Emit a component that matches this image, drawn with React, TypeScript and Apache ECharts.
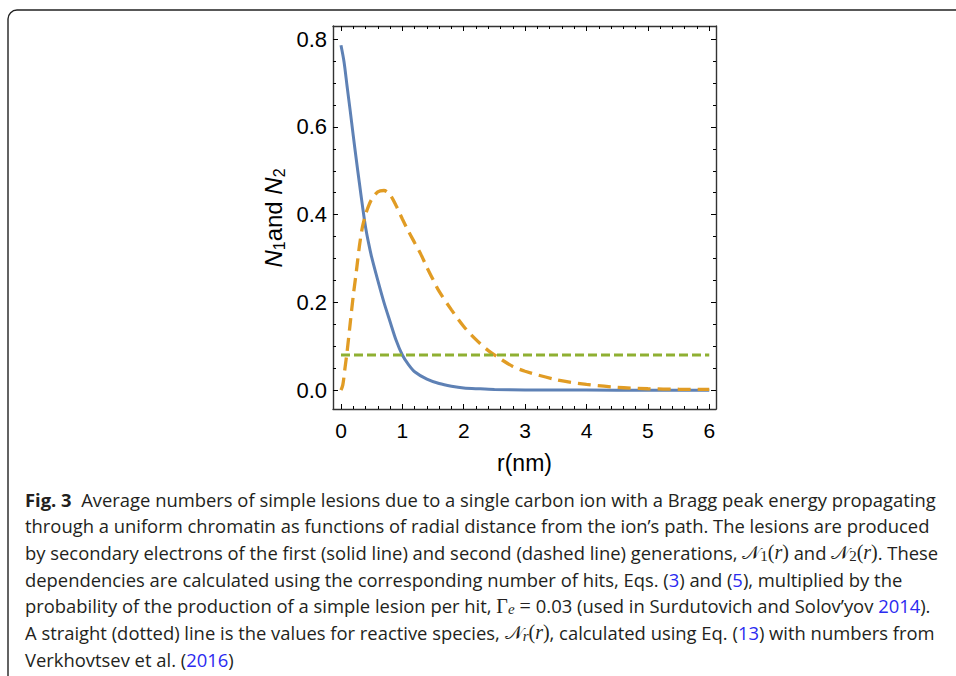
import React, { useEffect, useRef } from "react";
import * as echarts from "echarts";

// ---- data ----
const rN1 = [0, 0.05, 0.1, 0.15, 0.2, 0.25, 0.3, 0.35, 0.4, 0.45, 0.5, 0.6, 0.7, 0.8, 0.9, 1.0, 1.1, 1.2, 1.4, 1.6, 1.8, 2.0, 2.25, 2.5, 3.0, 4.0, 5.0, 6.0];
const n1Values = [0.786, 0.748, 0.692, 0.637, 0.58, 0.525, 0.472, 0.42, 0.372, 0.335, 0.303, 0.25, 0.2, 0.156, 0.113, 0.08, 0.058, 0.042, 0.025, 0.015, 0.009, 0.005, 0.003, 0.0015, 0.0005, 0.0001, 0, 0];

const rN2 = [0, 0.03, 0.065, 0.1, 0.15, 0.2, 0.25, 0.3, 0.35, 0.4, 0.45, 0.5, 0.6, 0.7, 0.8, 0.9, 1.0, 1.1, 1.2, 1.3, 1.4, 1.5, 1.6, 1.8, 2.0, 2.2, 2.4, 2.6, 2.8, 3.0, 3.5, 4.0, 4.5, 5.0, 5.5, 6.0];
const n2Values = [0, 0.012, 0.05, 0.088, 0.152, 0.215, 0.27, 0.328, 0.372, 0.4, 0.42, 0.435, 0.452, 0.455, 0.445, 0.42, 0.39, 0.362, 0.336, 0.31, 0.28, 0.252, 0.225, 0.183, 0.145, 0.115, 0.09, 0.071, 0.054, 0.043, 0.024, 0.013, 0.0065, 0.0032, 0.002, 0.0016];

const rReactive = [0, 6];
const reactiveValues = [0.08, 0.08];

const xMajorTicks = [0, 1, 2, 3, 4, 5, 6];
const xMinorTicks = [0.2, 0.4, 0.6, 0.8, 1.2, 1.4, 1.6, 1.8, 2.2, 2.4, 2.6, 2.8, 3.2, 3.4, 3.6, 3.8, 4.2, 4.4, 4.6, 4.8, 5.2, 5.4, 5.6, 5.8];
const yMajorTicks = [0, 0.2, 0.4, 0.6, 0.8];
const yMinorTicks = [0.05, 0.1, 0.15, 0.25, 0.3, 0.35, 0.45, 0.5, 0.55, 0.65, 0.7, 0.75];

const captionLines = [
  "{b|Fig. 3}{t|  Average numbers of simple lesions due to a single carbon ion with a Bragg peak energy propagating}",
  "{t|through a uniform chromatin as functions of radial distance from the ion\u2019s path. The lesions are produced}",
  "{t|by secondary electrons of the first (solid line) and second (dashed line) generations, }{m|\uD835\uDCA9}{s|1}{p|(}{mi|r}{p|)}{t| and }{m|\uD835\uDCA9}{s|2}{p|(}{mi|r}{p|)}{t|. These}",
  "{t|dependencies are calculated using the corresponding number of hits, Eqs. (}{l|3}{t|) and (}{l|5}{t|), multiplied by the}",
  "{t|probability of the production of a simple lesion per hit, }{p|\u0393}{si|e}{p| = }{t|0.03 (used in Surdutovich and Solov\u2019yov }{l|2014}{t|).}",
  "{t|A straight (dotted) line is the values for reactive species, }{m|\uD835\uDCA9}{si|r}{p|(}{mi|r}{p|)}{t|, calculated using Eq. (}{l|13}{t|) with numbers from}",
  "{t|Verkhovtsev et al. (}{l|2016}{t|)}",
];

const GRID = { left: 333, right: 240, top: 26, bottom: 267 };
const X_MIN = -0.13, X_MAX = 6.11;
const Y_MIN = -0.043, Y_MAX = 0.83;

export default function App() {
  const ref = useRef<HTMLDivElement>(null);
  useEffect(() => {
    if (!ref.current) return;
    const chart = echarts.init(ref.current, undefined, { renderer: "svg" });
    const textColor = "#231f20";
    const capFont = "'Open Sans', 'Noto Sans', sans-serif";
    const capSize = 18.4;
    const rich: any = {
      t: { fontFamily: capFont, fontSize: capSize, fill: textColor, lineHeight: 22 },
      b: { fontFamily: capFont, fontSize: capSize, fontWeight: "bold", fill: textColor, lineHeight: 22 },
      l: { fontFamily: capFont, fontSize: capSize, fill: "#2b2bf0", lineHeight: 22 },
      m: { fontFamily: "'DejaVu Serif', 'Liberation Serif', serif", fontSize: 19, fill: textColor, lineHeight: 22 },
      p: { fontFamily: "'Liberation Serif', serif", fontSize: 20, fill: textColor, lineHeight: 22 },
      mi: { fontFamily: "'Liberation Serif', serif", fontStyle: "italic", fontSize: 20, fill: textColor, lineHeight: 22 },
      s: { fontFamily: "'Liberation Serif', serif", fontSize: 15, fill: textColor, lineHeight: 12, verticalAlign: "bottom" },
      si: { fontFamily: "'Liberation Serif', serif", fontStyle: "italic", fontSize: 15, fill: textColor, lineHeight: 12, verticalAlign: "bottom" },
    };
    const baselines = [505, 531.7, 558.3, 585, 611.7, 638.3, 665];
    const captionGraphics = captionLines.map((line, i) => ({
      type: "text",
      x: 25,
      y: baselines[i] - 6,
      style: { text: line, rich, align: "left", verticalAlign: "middle" },
    }));

    const axisLineStyle = { color: "#333", width: 1.4 };
    const tickStyle = { color: "#000", width: 1 };

    const mkX = (gridIndex: number, position: string, ticks: number[], len: number, labels: boolean, line: boolean) => ({
      type: "value",
      gridIndex,
      position,
      min: X_MIN,
      max: X_MAX,
      axisLine: { show: line, onZero: false, lineStyle: axisLineStyle },
      axisTick: { show: true, inside: true, length: len, lineStyle: tickStyle, customValues: ticks },
      axisLabel: labels
        ? { show: true, customValues: ticks, fontFamily: "'Liberation Sans', Arial, sans-serif", fontSize: 21, color: "#000", margin: 11, formatter: (v: number) => String(Math.round(v)) }
        : { show: false },
      splitLine: { show: false },
    });
    const mkY = (gridIndex: number, position: string, ticks: number[], len: number, labels: boolean, line: boolean) => ({
      type: "value",
      gridIndex,
      position,
      min: Y_MIN,
      max: Y_MAX,
      axisLine: { show: line, onZero: false, lineStyle: axisLineStyle },
      axisTick: { show: true, inside: true, length: len, lineStyle: tickStyle, customValues: ticks },
      axisLabel: labels
        ? { show: true, customValues: ticks, fontFamily: "'Liberation Sans', Arial, sans-serif", fontSize: 22, color: "#000", margin: 6, formatter: (v: number) => v.toFixed(1) }
        : { show: false },
      splitLine: { show: false },
    });

    chart.setOption({
      animation: false,
      backgroundColor: "#fff",
      grid: [
        { ...GRID },
        { ...GRID },
      ],
      xAxis: [
        mkX(0, "bottom", xMajorTicks, 5, true, true),
        mkX(0, "top", xMajorTicks, 5, false, true),
        mkX(1, "bottom", xMinorTicks, 3, false, false),
        mkX(1, "top", xMinorTicks, 3, false, false),
      ],
      yAxis: [
        mkY(0, "left", yMajorTicks, 5, true, true),
        mkY(0, "right", yMajorTicks, 5, false, true),
        mkY(1, "left", yMinorTicks, 3, false, false),
        mkY(1, "right", yMinorTicks, 3, false, false),
      ],
      series: [
        {
          type: "line",
          xAxisIndex: 0,
          yAxisIndex: 0,
          data: rN1.map((r, i) => [r, n1Values[i]]),
          showSymbol: false,
          smooth: 0.3,
          lineStyle: { color: "#5e81b5", width: 3 },
          z: 2,
        },
        {
          type: "line",
          xAxisIndex: 0,
          yAxisIndex: 0,
          data: rN2.map((r, i) => [r, n2Values[i]]),
          showSymbol: false,
          smooth: 0.3,
          lineStyle: { color: "#e19c24", width: 3.3, type: [13, 7] },
          z: 3,
        },
        {
          type: "line",
          xAxisIndex: 0,
          yAxisIndex: 0,
          data: rReactive.map((r, i) => [r, reactiveValues[i]]),
          showSymbol: false,
          lineStyle: { color: "#8fb032", width: 3, type: [9, 4] },
          z: 4,
        },
      ],
      graphic: [
        {
          type: "rect",
          shape: { x: 8, y: 10, width: 1000, height: 720, r: 9 },
          style: { fill: "none", stroke: "#222", lineWidth: 1.4 },
          silent: true,
        },
        {
          type: "text",
          x: 524.5,
          y: 463,
          style: {
            text: "r(nm)",
            fontFamily: "'Liberation Sans', Arial, sans-serif",
            fontSize: 23,
            fill: "#000",
            align: "center",
            verticalAlign: "middle",
          },
        },
        {
          type: "text",
          x: 273,
          y: 218,
          rotation: Math.PI / 2,
          style: {
            text: "{n|N}{s|1}{t|and }{n|N}{s|2}",
            align: "center",
            verticalAlign: "middle",
            rich: {
              n: { fontFamily: "'Liberation Sans', Arial, sans-serif", fontStyle: "italic", fontSize: 24, fill: "#000", lineHeight: 28 },
              t: { fontFamily: "'Liberation Sans', Arial, sans-serif", fontSize: 24, fill: "#000", lineHeight: 28 },
              s: { fontFamily: "'Liberation Sans', Arial, sans-serif", fontSize: 16, fill: "#000", lineHeight: 16, verticalAlign: "bottom" },
            },
          },
        },
        ...captionGraphics,
      ],
    });
    return () => chart.dispose();
  }, []);
  return <div ref={ref} style={{ position: "absolute", left: 0, top: 0, width: 956, height: 676 }} />;
}
